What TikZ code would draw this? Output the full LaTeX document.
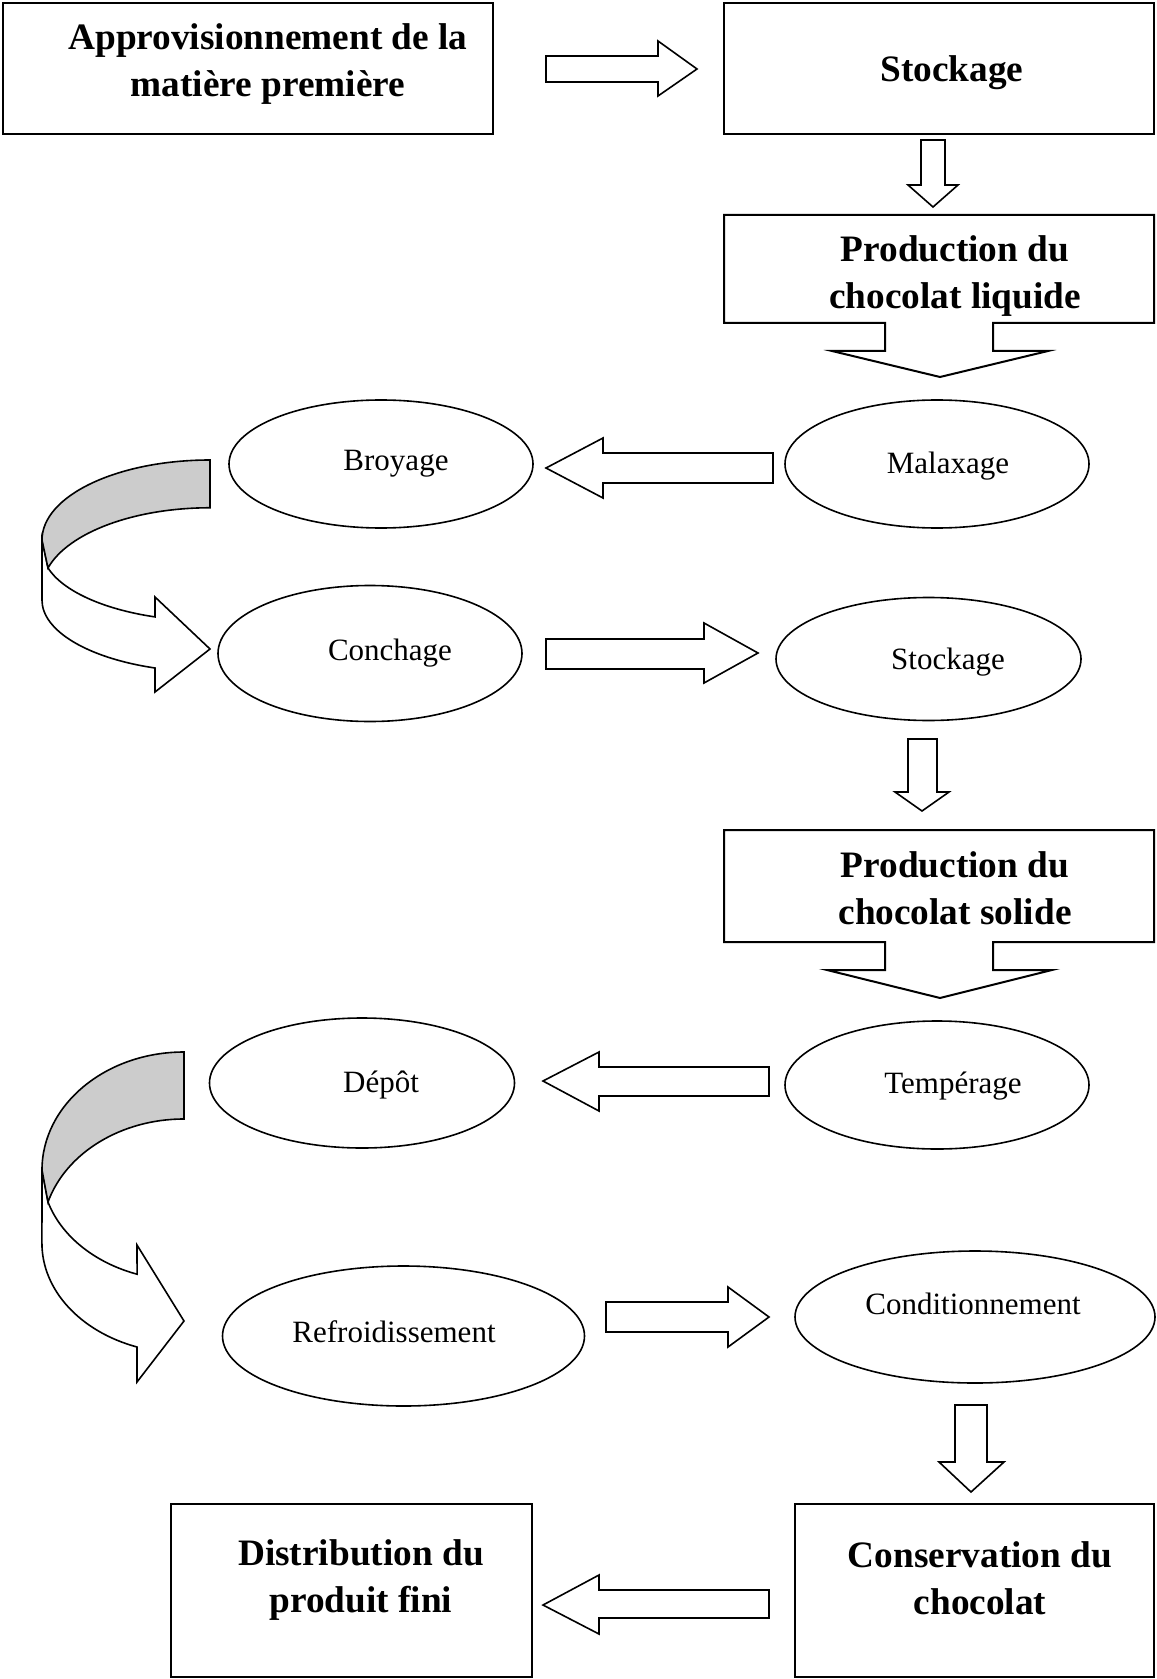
\documentclass[tikz,border=0pt]{standalone}
\usepackage{fontspec}
\setmainfont{Liberation Serif}
\usetikzlibrary{shapes.geometric}
\tikzset{
 box/.style={draw, line width=1pt, rectangle, inner sep=0pt},
 callout/.style={draw, line width=1pt, line join=miter},
 ell/.style={draw, ellipse, line width=0.8pt, inner sep=0pt},
 blk/.style={draw, fill=white, line width=0.8pt, line join=miter},
 bt/.style={font=\bfseries\fontsize{18.65}{23.35}\selectfont, align=center, inner sep=0pt},
 et/.style={font=\fontsize{15.5}{18}\selectfont, inner sep=0pt},
}
\begin{document}
\begin{tikzpicture}[x=0.5pt,y=-0.5pt]
\useasboundingbox (0,0) rectangle (1156,1679);
% ---- rectangular boxes
\node[box, minimum width=245pt, minimum height=65.5pt] (appro) at (248,68.5) {};
\node[bt] (approt) at (268,64) {Approvisionnement de la\\matière première};
\node[box, minimum width=215pt, minimum height=65.5pt] (stockA) at (939,68.5) {};
\node[bt] (stockAt) at (952,73) {Stockage};
\draw[callout] (724,215) -- (1154,215) -- (1154,323) -- (993,323) -- (993,351) -- (1048,351) -- (940,377) -- (832,351) -- (885,351) -- (885,323) -- (724,323) -- cycle;
\node[bt] (prodliq) at (955,276) {Production du\\chocolat liquide};
\draw[callout] (724,830) -- (1154,830) -- (1154,942) -- (993,942) -- (993,970) -- (1052,970) -- (940,998) -- (827,970) -- (885,970) -- (885,942) -- (724,942) -- cycle;
\node[bt] (prodsol) at (955,888) {Production du\\chocolat solide};
\node[box, minimum width=180.5pt, minimum height=86.5pt] (distr) at (351.5,1590.5) {};
\node[bt] (distrt) at (361,1580) {Distribution du\\produit fini};
\node[box, minimum width=179.5pt, minimum height=86.5pt] (conserv) at (974.5,1590.5) {};
\node[bt] (conservt) at (980,1578) {Conservation du\\chocolat};
% ---- ellipses
\node[ell, minimum width=152pt, minimum height=64pt] (broyage) at (381,464) {};
\node[et] (broyaget) at (396,464) {Broyage};
\node[ell, minimum width=152pt, minimum height=64pt] (malax) at (937,464) {};
\node[et] (malaxt) at (948,466) {Malaxage};
\node[ell, minimum width=152pt, minimum height=68pt] (conch) at (370,653.5) {};
\node[et] (concht) at (390,653) {Conchage};
\node[ell, minimum width=152.5pt, minimum height=61.5pt] (stockB) at (928.5,659) {};
\node[et] (stockBt) at (948,662) {Stockage};
\node[ell, minimum width=152.5pt, minimum height=65pt] (depot) at (362,1083) {};
\node[et] (depott) at (381,1085) {Dépôt};
\node[ell, minimum width=152pt, minimum height=64pt] (temper) at (937,1085) {};
\node[et] (tempert) at (953,1086) {Tempérage};
\node[ell, minimum width=181pt, minimum height=70pt] (refroid) at (403.5,1336) {};
\node[et] (refroidt) at (394,1332) {Refroidissement};
\node[ell, minimum width=180pt, minimum height=66pt] (condit) at (975,1317) {};
\node[et] (conditt) at (973,1304) {Conditionnement};
% ---- block arrows
\draw[blk] (546,56) -- (658,56) -- (658,41) -- (697,69) -- (658,96) -- (658,82) -- (546,82) -- cycle;
\draw[blk] (921,140) -- (945,140) -- (945,185) -- (958,185) -- (933,207) -- (908,185) -- (921,185) -- cycle;
\draw[blk] (773,453) -- (603,453) -- (603,438) -- (546,468) -- (603,498) -- (603,483) -- (773,483) -- cycle;
\draw[blk] (546,639) -- (704,639) -- (704,623) -- (758,653) -- (704,683) -- (704,669) -- (546,669) -- cycle;
\draw[blk] (908,739) -- (937,739) -- (937,792) -- (949,792) -- (922,811) -- (895,792) -- (908,792) -- cycle;
\draw[blk] (769,1067) -- (599,1067) -- (599,1052) -- (543,1081) -- (599,1111) -- (599,1096) -- (769,1096) -- cycle;
\draw[blk] (606,1302) -- (728,1302) -- (728,1287) -- (769,1317) -- (728,1347) -- (728,1332) -- (606,1332) -- cycle;
\draw[blk] (955,1405) -- (987,1405) -- (987,1462) -- (1004,1462) -- (971,1492) -- (939,1462) -- (955,1462) -- cycle;
\draw[blk] (769,1590) -- (599,1590) -- (599,1575) -- (543,1605) -- (599,1634) -- (599,1618) -- (769,1618) -- cycle;
% ---- curved arrow 1 (Broyage -> Conchage)
\filldraw[blk] (48,568) arc[start angle=164.6, end angle=109.1, x radius=168, y radius=72] -- (155,597) -- (210,649) -- (155,692) -- (155,668) arc[start angle=109.1, end angle=180, x radius=168, y radius=72] -- (42,540) -- cycle;
\filldraw[blk, fill=gray!40] (210,460) arc[start angle=-90, end angle=-180, x radius=168, y radius=80] -- (48,568) arc[start angle=-164.6, end angle=-90, x radius=168, y radius=82] -- cycle;
% ---- curved arrow 2 (Dépôt -> Refroidissement)
\filldraw[blk] (48,1202) arc[start angle=163.3, end angle=109.3, x radius=142, y radius=110] -- (137,1245) -- (184,1321) -- (137,1382) -- (137,1347) arc[start angle=109.3, end angle=180, x radius=142, y radius=110] -- (42,1170) -- cycle;
\filldraw[blk, fill=gray!40] (184,1052) arc[start angle=-90, end angle=-180, x radius=142, y radius=118] -- (48,1202) arc[start angle=-163.3, end angle=-90, x radius=142, y radius=116.5] -- cycle;
\end{tikzpicture}
\end{document}
